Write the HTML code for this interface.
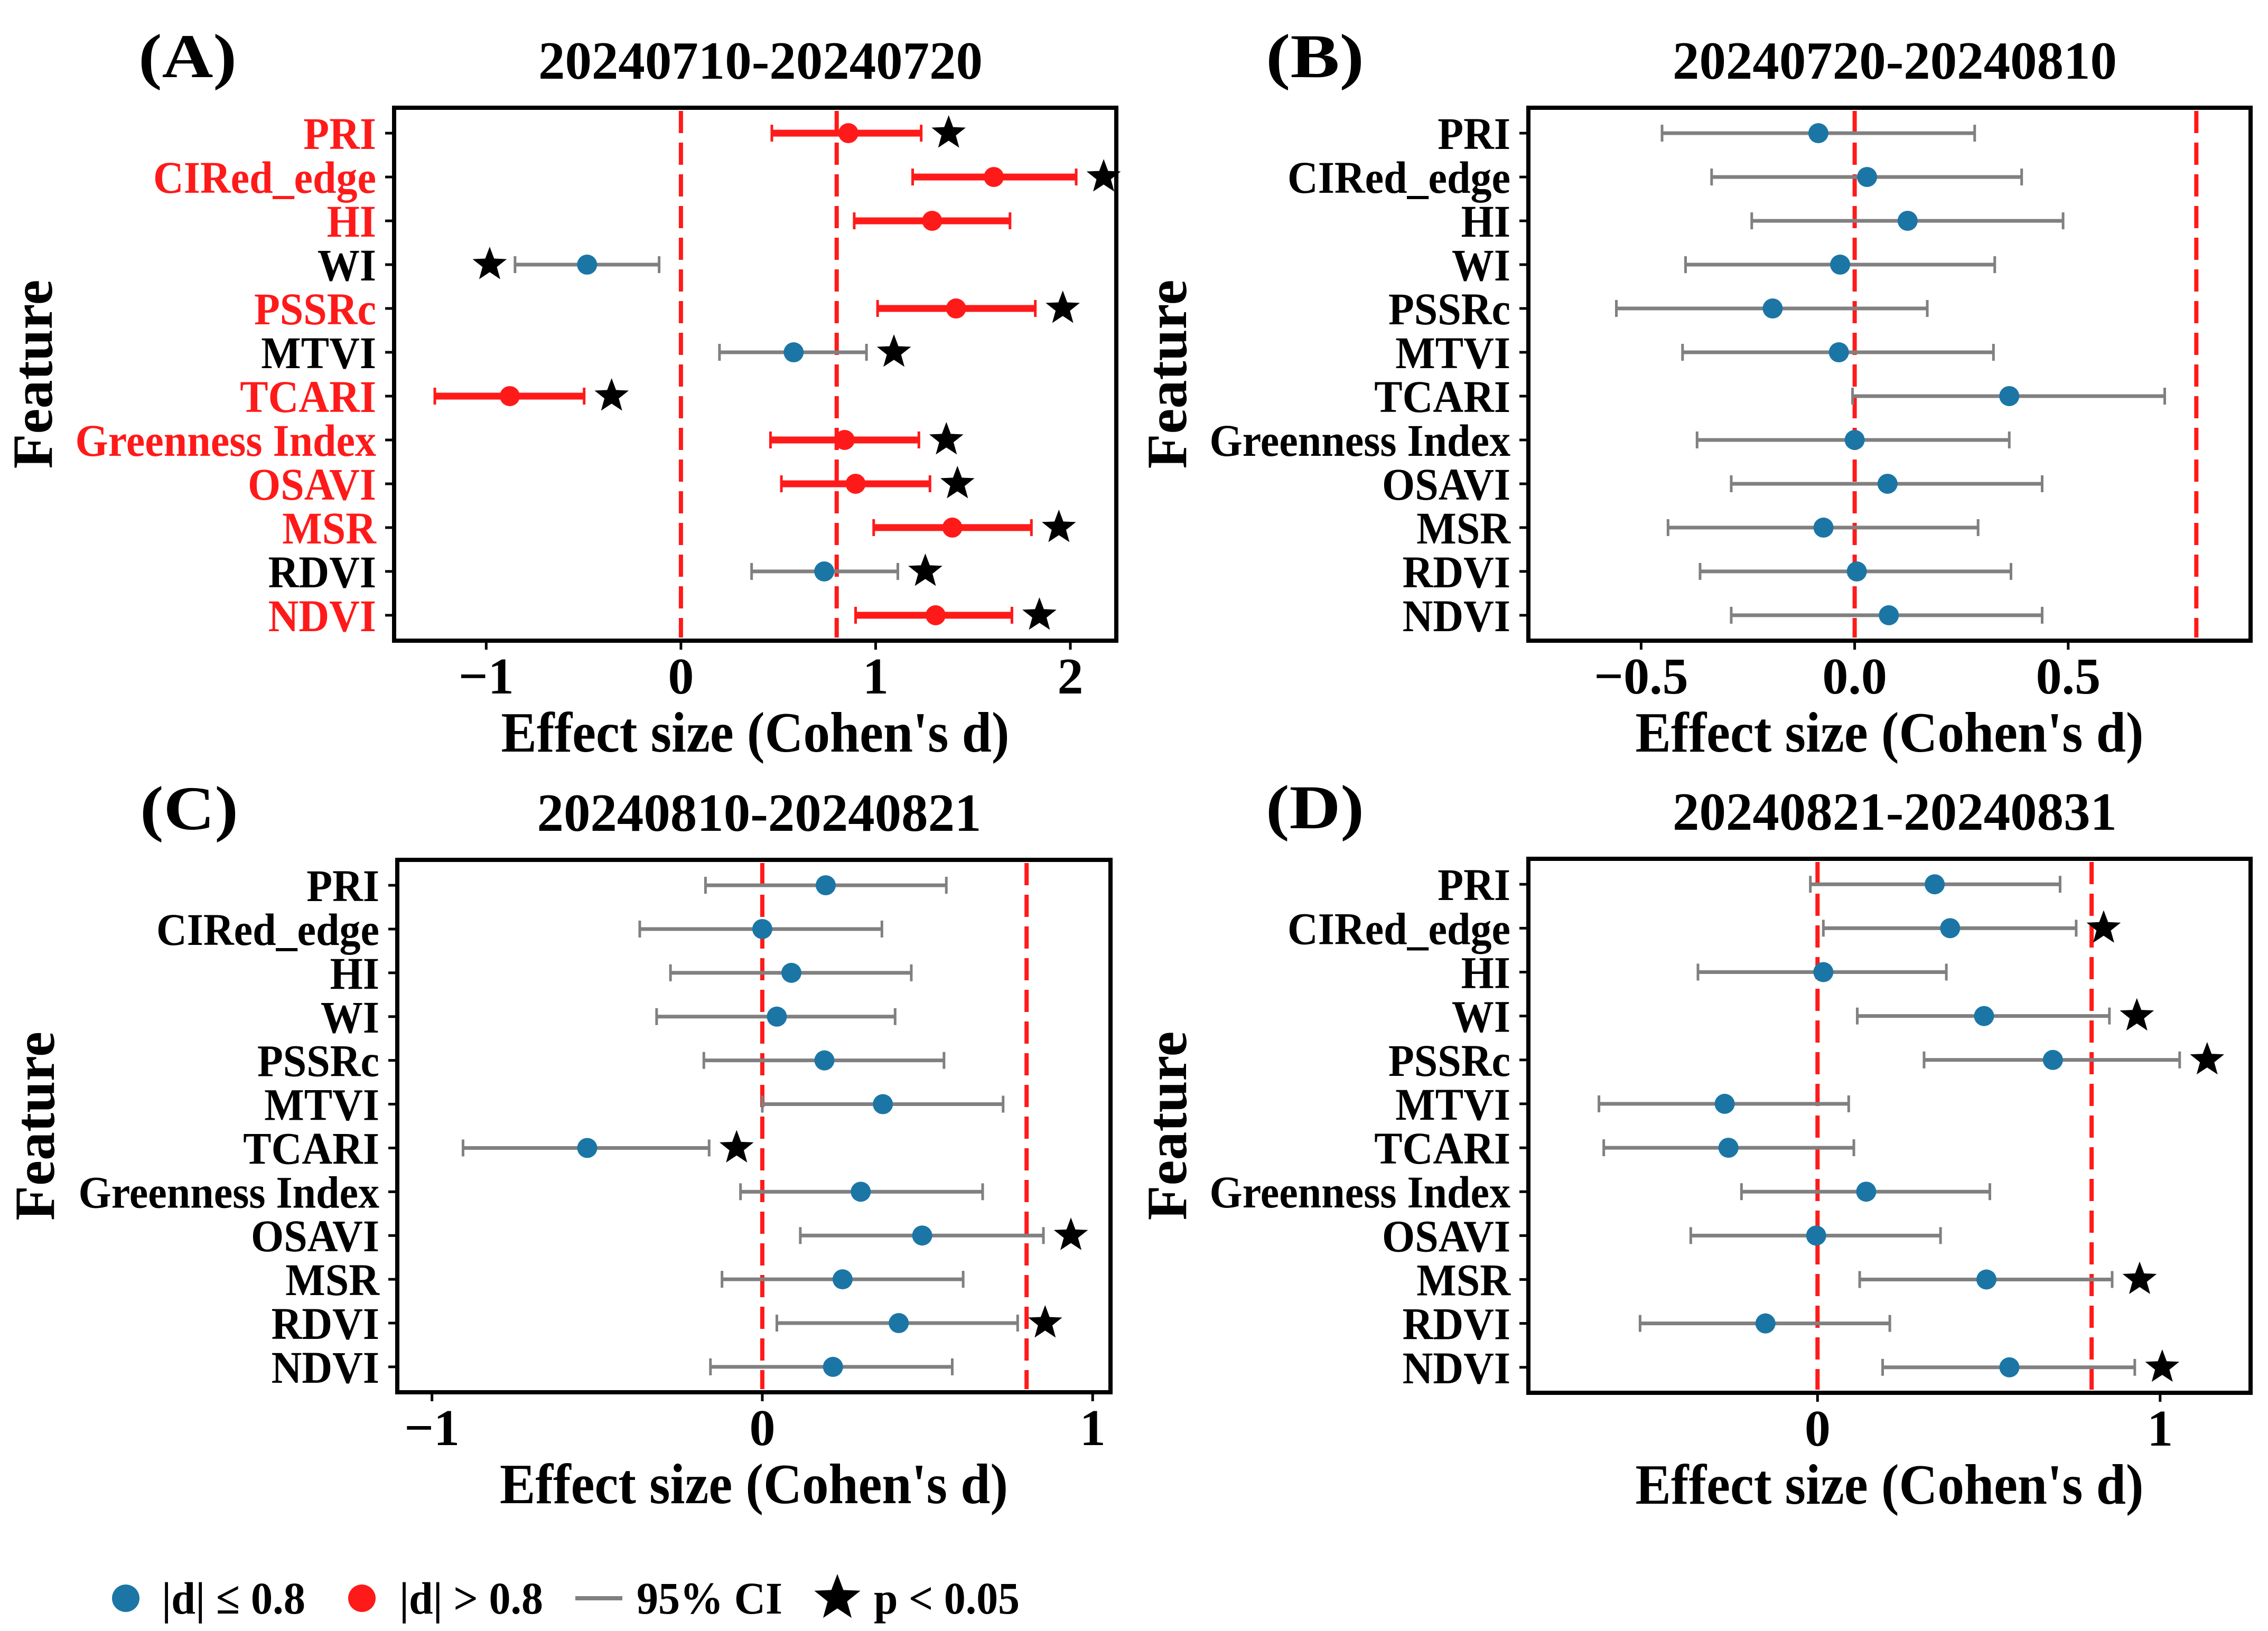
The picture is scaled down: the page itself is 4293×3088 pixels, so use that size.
<!DOCTYPE html>
<html><head><meta charset="utf-8">
<style>
html,body{margin:0;padding:0;background:#fff;}
svg{display:block;}
text{font-family:"Liberation Serif","DejaVu Serif",serif;font-weight:bold;}
</style></head>
<body>
<svg id="fig" xmlns="http://www.w3.org/2000/svg" width="4293" height="3088" viewBox="0 0 4293 3088">
<rect width="4293" height="3088" fill="#fff"/>
</svg>
<script>
const features = ["PRI","CIRed_edge","HI","WI","PSSRc","MTVI","TCARI","Greenness Index","OSAVI","MSR","RDVI","NDVI"];
// Panel A
const aPoint = [0.86,1.607,1.29,-0.482,1.413,0.579,-0.879,0.841,0.897,1.394,0.736,1.308];
const aLow   = [0.467,1.19,0.89,-0.852,1.01,0.198,-1.264,0.46,0.516,0.99,0.363,0.897];
const aHigh  = [1.234,2.03,1.69,-0.112,1.82,0.953,-0.497,1.222,1.279,1.80,1.114,1.70];
const aSig   = [1,1,0,1,1,1,1,1,1,1,1,1];
const aStarSide = [1,1,1,-1,1,1,1,1,1,1,1,1];
// Panel B
const bPoint = [-0.085,0.029,0.124,-0.034,-0.192,-0.037,0.362,0,0.077,-0.073,0.005,0.08];
const bLow   = [-0.451,-0.335,-0.241,-0.396,-0.558,-0.403,-0.005,-0.369,-0.289,-0.437,-0.362,-0.289];
const bHigh  = [0.281,0.391,0.488,0.328,0.17,0.325,0.726,0.362,0.439,0.289,0.366,0.439];
const bSig   = [0,0,0,0,0,0,0,0,0,0,0,0];
// Panel C
const cPoint = [0.192,0,0.088,0.044,0.188,0.365,-0.53,0.298,0.484,0.243,0.413,0.214];
const cLow   = [-0.172,-0.371,-0.278,-0.32,-0.177,0,-0.906,-0.066,0.115,-0.122,0.044,-0.157];
const cHigh  = [0.557,0.362,0.451,0.402,0.55,0.729,-0.161,0.667,0.851,0.608,0.773,0.575];
const cSig   = [0,0,0,0,0,0,1,0,1,0,1,0];
// Panel D
const dPoint = [0.342,0.387,0.017,0.486,0.687,-0.271,-0.26,0.142,-0.004,0.493,-0.152,0.56];
const dLow   = [-0.021,0.017,-0.349,0.116,0.311,-0.638,-0.624,-0.222,-0.37,0.123,-0.518,0.19];
const dHigh  = [0.708,0.755,0.376,0.852,1.057,0.091,0.106,0.503,0.359,0.86,0.211,0.926];
const dSig   = [0,1,0,1,1,0,0,0,0,1,0,1];
const aTicks = [-1,0,1,2], aTickLabels = ["\u22121","0","1","2"];
const bTicks = [-0.5,0,0.5], bTickLabels = ["\u22120.5","0.0","0.5"];
const cTicks = [-1,0,1], cTickLabels = ["\u22121","0","1"];
const dTicks = [0,1], dTickLabels = ["0","1"];
const aRefs = [0,0.8], bRefs = [0,0.8], cRefs = [0,0.8], dRefs = [0,0.8];

const NS="http://www.w3.org/2000/svg";
const svg=document.getElementById('fig');
const BLUE="#1b76a6", RED="#ff1a1a", GREY="#808080";
function mk(tag,attrs,parent,txt){const e=document.createElementNS(NS,tag);for(const k in attrs)e.setAttribute(k,attrs[k]);if(txt!==undefined)e.textContent=txt;(parent||svg).appendChild(e);return e;}
function starPts(cx,cy,R){const r=R*0.42;let p=[];for(let i=0;i<10;i++){const a=-Math.PI/2+i*Math.PI/5;const rr=i%2?r:R;p.push((cx+rr*Math.cos(a)).toFixed(1)+","+(cy+rr*Math.sin(a)).toFixed(1));}return p.join(" ");}

function panel(o){
  const g=mk('g',{});
  
  
  const [x0,x1,y0,y1]=o.box;
  const X=v=>x0+(v-o.xlim[0])/(o.xlim[1]-o.xlim[0])*(x1-x0);
  const H=y1-y0, s=H/12.16, pad=(H-11*s)/2;
  const Y=i=>y0+pad+i*s;
  const lt=mk('text',{x:o.letterX,y:y0-58,'font-size':118,textLength:186,lengthAdjust:'spacingAndGlyphs'},g,"("+o.id.toUpperCase()+")");
  
  
  const tt=mk('text',{x:(x0+x1)/2+10,y:y0-55,'font-size':102,'text-anchor':'middle',textLength:841,lengthAdjust:'spacingAndGlyphs'},g,o.title);
  
  
  o.refs.forEach(r=>{const l=mk('line',{x1:X(r),x2:X(r),y1:y0+6,y2:y1-6,stroke:RED,'stroke-width':8,'stroke-dasharray':'42,18'},g);
    
    });
  features.forEach((f,i)=>{
    const y=Y(i);const big=Math.abs(o.pt[i])>0.8;
    const col=big?RED:GREY, w=big?13:7;
    mk('line',{x1:x0-17,x2:x0,y1:y,y2:y,stroke:'#000','stroke-width':5},g);
    const lx=x0-34;
    const lab=mk('text',{x:0,y:0,'font-size':86,'text-anchor':'end',fill:big?RED:'#000',transform:`translate(${lx},${y+30}) scale(0.93,1)`},g,f);
    
    
    const eb=mk('g',{},g);
    
    
    mk('line',{x1:X(o.lo[i]),x2:X(o.hi[i]),y1:y,y2:y,stroke:col,'stroke-width':w},eb);
    mk('line',{x1:X(o.lo[i]),x2:X(o.lo[i]),y1:y-16,y2:y+16,stroke:col,'stroke-width':5},eb);
    mk('line',{x1:X(o.hi[i]),x2:X(o.hi[i]),y1:y-16,y2:y+16,stroke:col,'stroke-width':5},eb);
    const c=mk('circle',{cx:X(o.pt[i]),cy:y,r:19,fill:big?RED:BLUE},g);
    
    
    if(o.sig[i]){const side=o.side?o.side[i]:1;const sx=side>0?X(o.hi[i])+52:X(o.lo[i])-48;
      const st=mk('polygon',{points:starPts(sx,y,34),fill:'#000'},g);
      
      }
  });
  const bx=mk('rect',{x:x0,y:y0,width:x1-x0,height:y1-y0,fill:'none',stroke:'#000','stroke-width':8},g);
  
  
  o.ticks.forEach((t,k)=>{const x=X(t);
    mk('line',{x1:x,x2:x,y1:y1,y2:y1+17,stroke:'#000','stroke-width':5},g);
    const tl=mk('text',{x:x,y:y1+100,'font-size':98,'text-anchor':'middle'},g,o.tickLabels[k]);
    
    });
  const xl=mk('text',{x:(x0+x1)/2,y:y1+210,'font-size':108,'text-anchor':'middle',textLength:962,lengthAdjust:'spacingAndGlyphs'},g,"Effect size (Cohen's d)");
  
  
  const yc=(y0+y1)/2;
  const yl=mk('text',{x:0,y:0,'font-size':108,'text-anchor':'middle',transform:`translate(${o.featX},${yc}) rotate(-90)`},g,"Feature");
  
  
}
panel({id:'a',box:[746,2113,204,1213],xlim:[-1.473,2.236],pt:aPoint,lo:aLow,hi:aHigh,sig:aSig,side:aStarSide,ticks:aTicks,tickLabels:aTickLabels,refs:aRefs,title:"20240710-20240720",letterX:262,featX:98});
panel({id:'b',box:[2893,4260,204,1213],xlim:[-0.764,0.927],pt:bPoint,lo:bLow,hi:bHigh,sig:bSig,ticks:bTicks,tickLabels:bTickLabels,refs:bRefs,title:"20240720-20240810",letterX:2396,featX:2245});
panel({id:'c',box:[752,2102,1628,2636],xlim:[-1.105,1.054],pt:cPoint,lo:cLow,hi:cHigh,sig:cSig,ticks:cTicks,tickLabels:cTickLabels,refs:cRefs,title:"20240810-20240821",letterX:265,featX:102});
panel({id:'d',box:[2893,4260,1626,2637],xlim:[-0.844,1.264],pt:dPoint,lo:dLow,hi:dHigh,sig:dSig,ticks:dTicks,tickLabels:dTickLabels,refs:dRefs,title:"20240821-20240831",letterX:2396,featX:2245});

const lg=mk('g',{});


const ly=3026;
mk('circle',{cx:238,cy:ly,r:26,fill:BLUE},lg);
mk('text',{x:306,y:ly+29,'font-size':86,textLength:272,lengthAdjust:'spacingAndGlyphs'},lg,"|d| \u2264 0.8");
mk('circle',{cx:685,cy:ly,r:26,fill:RED},lg);
mk('text',{x:756,y:ly+29,'font-size':86,textLength:272,lengthAdjust:'spacingAndGlyphs'},lg,"|d| > 0.8");
mk('line',{x1:1089,x2:1178,y1:ly,y2:ly,stroke:GREY,'stroke-width':8},lg);
mk('text',{x:1205,y:ly+29,'font-size':86,textLength:276,lengthAdjust:'spacingAndGlyphs'},lg,"95% CI");
mk('polygon',{points:starPts(1585,ly,46),fill:'#000'},lg);
mk('text',{x:1654,y:ly+29,'font-size':86,textLength:276,lengthAdjust:'spacingAndGlyphs'},lg,"p < 0.05");
</script>
</body></html>
